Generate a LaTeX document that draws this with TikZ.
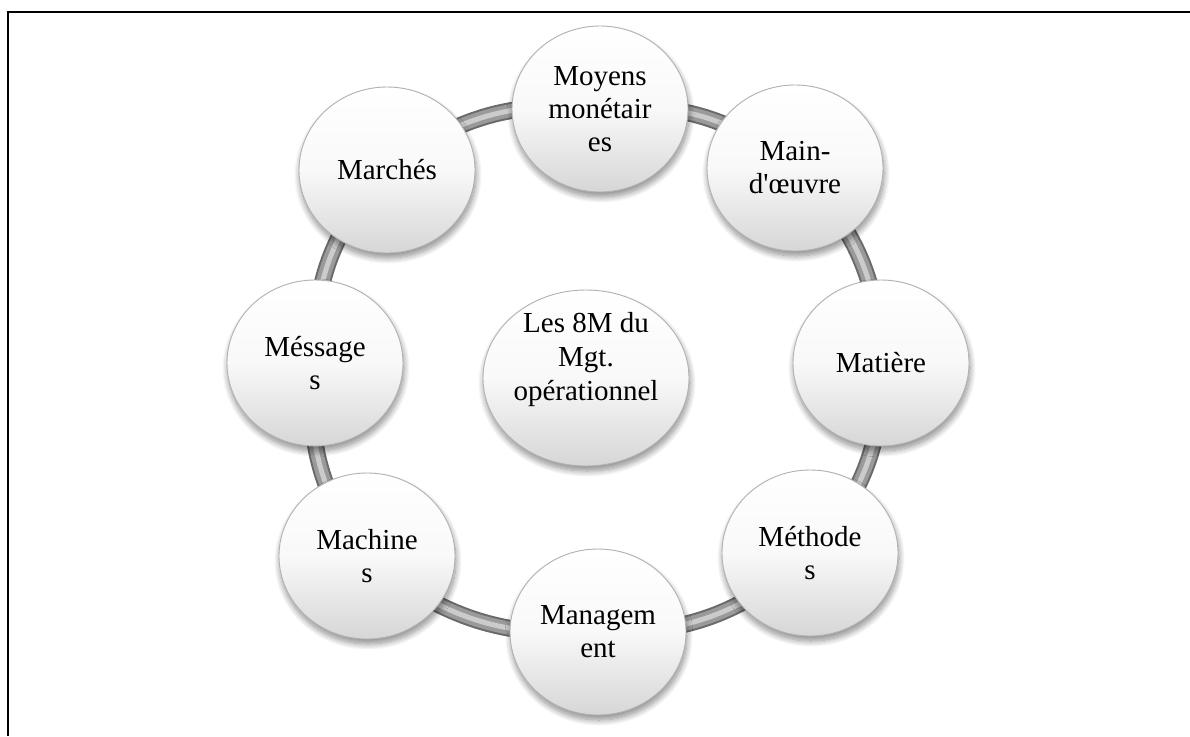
\documentclass[tikz,border=0pt]{standalone}
\usepackage{fontspec}
\setmainfont{Liberation Serif}
\usetikzlibrary{shapes.geometric,shadows.blur}
\pgfdeclarelayer{background}
\pgfsetlayers{background,main}
\definecolor{tubeedge}{HTML}{6A6A6A}
\definecolor{tubebody}{HTML}{9A9A9A}
\definecolor{tubelight}{HTML}{CBCBCB}
\begin{document}
\begin{tikzpicture}[x=1pt,y=-1pt,
  orb/.style={ellipse, minimum width=176pt, minimum height=166pt, inner sep=0pt,
    align=center, font=\fontsize{29}{33}\selectfont, text=black,
    top color=white, bottom color=gray!32, middle color=gray!5,
    draw=gray!60, line width=0.9pt,
    blur shadow={shadow xshift=1pt, shadow yshift=-5pt, shadow blur radius=6pt,
      shadow blur steps=12, shadow opacity=45}},
  hubstyle/.style={orb, minimum width=206pt, minimum height=176pt},
  hubtext/.style={align=center, font=\fontsize{29}{34}\selectfont, text=black, inner sep=0pt},
  tube/.style={draw=tubeedge, line width=17pt,
    postaction={draw=tubebody, line width=13pt},
    postaction={draw=tubelight, line width=5pt}},
  frame/.style={line width=2.6pt}]
  \useasboundingbox (0,0) rectangle (1190,736);

  % frame lines (top and left)
  \coordinate (ftr) at (1190,12);
  \coordinate (ftl) at (8,12);
  \coordinate (fbl) at (8,736);
  \draw[frame] (ftr) -- (ftl) -- (fbl);

  % the eight M around the ring
  \node[orb] (moy)   at (600,109) {Moyens\\monétair\\es};
  \node[orb] (main)  at (795,168) {Main-\\d\textquotesingle œuvre};
  \node[orb] (mat)   at (881,363) {Matière};
  \node[orb] (meth)  at (810,553) {Méthode\\s};
  \node[orb] (mgmt)  at (598,632) {Managem\\ent};
  \node[orb] (mach)  at (367,556) {Machine\\s};
  \node[orb] (mess)  at (315,363) {Méssage\\s};
  \node[orb] (march) at (387,170) {Marchés};

  % central ellipse
  \node[hubstyle] (hub) at (586,378) {};
  \node[hubtext] (hubt) at ([yshift=18pt]hub.center) {Les 8M du\\Mgt.\\opérationnel};

  % ring joining the circles
  \begin{pgfonlayer}{background}
    \draw[tube] (moy.center) to[bend left=22] (main.center)
      to[bend left=22] (mat.center) to[bend left=22] (meth.center)
      to[bend left=22] (mgmt.center) to[bend left=22] (mach.center)
      to[bend left=22] (mess.center) to[bend left=22] (march.center)
      to[bend left=22] (moy.center);
  \end{pgfonlayer}
\end{tikzpicture}
\end{document}
